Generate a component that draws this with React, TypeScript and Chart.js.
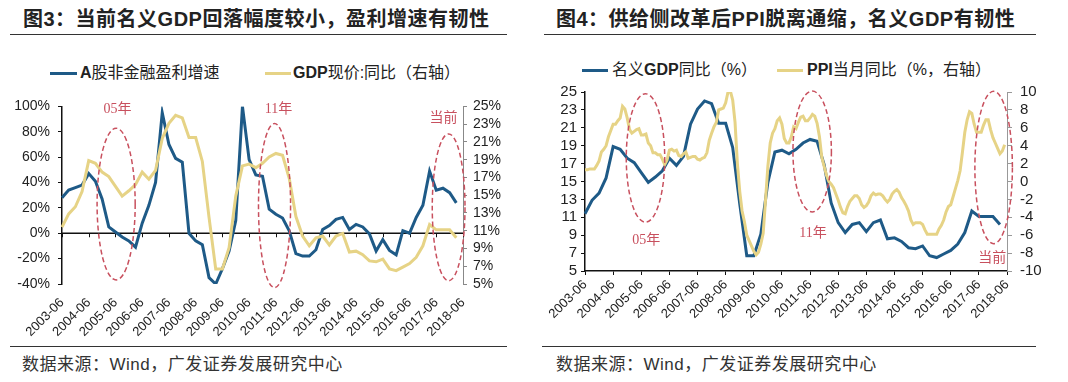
import React, { useEffect, useRef } from 'react';
import { Chart, registerables } from 'chart.js';

Chart.register(...registerables);

const SANS = '"Liberation Sans", Arial, "Noto Sans CJK SC", sans-serif';
const SERIF = '"Liberation Serif", "DejaVu Serif", "Noto Sans CJK SC", serif';
Chart.defaults.font.family = SANS;
Chart.defaults.color = '#222';

const BLUE = '#1E5A87';
const YELLOW = '#E6D386';
const NOTE_RED = '#C8505E';

// ---------- categories ----------
const YEARS = [2003, 2004, 2005, 2006, 2007, 2008, 2009, 2010, 2011, 2012, 2013, 2014, 2015, 2016, 2017, 2018];
const QUARTER_ENDS = ['03', '06', '09', '12'];
const MONTHS = ['01', '02', '03', '04', '05', '06', '07', '08', '09', '10', '11', '12'];
const FIRST_LABEL = '2003-06';
const LAST_LABEL = '2018-06';

const QUARTER_LABELS = YEARS.flatMap((y) => QUARTER_ENDS.map((m) => `${y}-${m}`)).filter(
  (l) => l >= FIRST_LABEL && l <= LAST_LABEL
);
const MONTH_LABELS = YEARS.flatMap((y) => MONTHS.map((m) => `${y}-${m}`)).filter(
  (l) => l >= FIRST_LABEL && l <= LAST_LABEL
);

// ---------- data (quarterly, from 2003-06) ----------
// A股非金融盈利增速 (%), left axis of 图3
const PROFIT_GROWTH = [
  28, 34, 36, 38, 47, 41, 27, 5, 1, -3,
  -6, -11, 8, 22, 40, 95, 70, 59, 56, 0,
  -6, -9, -35, -40, -28, -14, 10, 100, 58, 46,
  45, 19, 15, 12, 2, -16, -18, -18, -13, 3,
  6, 11, 12.5, 3, 7, 5, -0.5, -14, -5, -13.5,
  -17, 2, 0, 12.5, 22, 49, 34, 35.5, 32, 24,
];

// GDP现价:同比 / 名义GDP同比 (%), quarterly
const NOMINAL_GDP = [
  11.4, 12.9, 13.7, 15.4, 18.9, 18.6, 17.6, 17.1, 16.0, 14.9,
  15.5, 16.2, 17.6, 16.8, 17.8, 21.4, 23.1, 24.0, 23.7, 21.5,
  21.5, 18.8, 12.5, 6.7, 6.7, 9.1, 14.9, 18.3, 18.5, 18.1,
  18.6, 19.3, 19.7, 19.5, 16.9, 12.6, 10.4, 9.3, 10.2, 10.4,
  9.4, 10.4, 10.7, 8.6, 8.7, 8.3, 7.6, 7.5, 7.8, 6.7,
  6.5, 6.9, 7.3, 8.0, 9.3, 11.7, 11.1, 11.1, 11.1, 10.2,
];

// PPI当月同比 (%), monthly from 2003-06
const PPI_YOY = [
  1.3, 1.3, 1.4, 1.4, 1.4, 1.8, 2.3,
  3.3, 3.6, 4.0, 5.0, 5.7, 6.4, 6.4, 6.8, 7.1, 8.4, 8.1, 7.1,
  5.8, 5.4, 5.6, 5.8, 5.9, 5.2, 5.2, 5.3, 4.3, 4.0, 3.2, 3.2,
  3.0, 3.0, 2.5, 1.9, 2.4, 3.5, 3.6, 3.4, 3.5, 2.9, 2.8, 3.1,
  3.3, 2.6, 2.7, 2.8, 2.8, 2.5, 2.4, 2.6, 2.7, 3.2, 4.6, 5.4,
  6.1, 6.6, 8.0, 8.1, 8.2, 8.8, 10.0, 10.1, 9.1, 6.6, 2.0, -1.1,
  -3.3, -4.5, -6.0, -6.6, -7.2, -7.8, -8.2, -7.9, -7.0, -5.8, -2.1, 1.7,
  4.3, 5.4, 5.9, 6.8, 7.1, 6.4, 4.8, 4.3, 4.3, 5.0, 6.1, 5.9,
  6.6, 7.2, 7.3, 6.8, 6.8, 7.1, 7.5, 7.3, 6.5, 5.0, 2.7, 1.7,
  0.7, 0.0, -0.3, -0.7, -1.4, -2.1, -2.9, -3.5, -3.6, -2.8, -2.2, -1.9,
  -1.6, -1.6, -1.9, -2.6, -2.9, -2.7, -2.3, -1.6, -1.3, -1.5, -1.4, -1.4,
  -1.6, -2.0, -2.3, -2.0, -1.4, -1.1, -0.9, -1.2, -1.8, -2.2, -2.7, -3.3,
  -4.3, -4.8, -4.6, -4.6, -4.6, -4.8, -5.4, -5.9, -5.9, -5.9, -5.9, -5.9,
  -5.3, -4.9, -4.3, -3.4, -2.8, -2.6, -1.7, -0.8, 0.1, 1.2, 3.3, 5.5,
  6.9, 7.8, 7.6, 6.4, 5.5, 5.5, 5.5, 6.3, 6.9, 6.9, 5.8, 4.9,
  4.3, 3.7, 3.1, 3.4, 4.1,
];

// quarterly GDP placed on the monthly axis
const GDP_ON_MONTHS = MONTH_LABELS.map((l) => {
  const qi = QUARTER_LABELS.indexOf(l);
  return qi >= 0 && qi < NOMINAL_GDP.length ? NOMINAL_GDP[qi] : null;
});

// ---------- annotations (in data units: category index, left-axis value) ----------
type Ellipse = { x0: number; x1: number; y0: number; y1: number };
type Note = { text: string; x: number; y: number };

const FIG3_ELLIPSES: Ellipse[] = [
  { x0: 5.25, x1: 10.95, y0: -36.8, y1: 82.8 },
  { x0: 29.4, x1: 34.2, y0: -42.8, y1: 86.5 },
  { x0: 55.4, x1: 60.3, y0: -37.4, y1: 78.3 },
];
const FIG3_NOTES: Note[] = [
  { text: '05年', x: 8.3, y: 97.4 },
  { text: '11年', x: 32.4, y: 97.9 },
  { text: '当前', x: 57.1, y: 90.9 },
];
const FIG4_ELLIPSES: Ellipse[] = [
  { x0: 17.6, x1: 34.0, y0: 10.45, y1: 24.8 },
  { x0: 88.7, x1: 105.1, y0: 11.6, y1: 25.1 },
  { x0: 166.3, x1: 182.3, y0: 8.05, y1: 25.07 },
];
const FIG4_NOTES: Note[] = [
  { text: '05年', x: 26.1, y: 8.46 },
  { text: '11年', x: 97.3, y: 9.25 },
  { text: '当前', x: 173.7, y: 6.4 },
];

function annotationPlugin(ellipses: Ellipse[], notes: Note[], zeroTickEvery: number) {
  return {
    id: 'annotations',
    beforeDatasetsDraw(chart: any) {
      if (!zeroTickEvery) return;
      const { ctx, chartArea } = chart;
      const x = chart.scales.x;
      const y = chart.scales.y;
      const y0 = y.getPixelForValue(0);
      ctx.save();
      ctx.strokeStyle = '#111';
      ctx.lineWidth = 1.5;
      ctx.beginPath();
      ctx.moveTo(chartArea.left, y0);
      ctx.lineTo(chartArea.right, y0);
      ctx.stroke();
      ctx.lineWidth = 1;
      ctx.beginPath();
      for (let i = 0; i < x.ticks.length; i += zeroTickEvery) {
        const px = Math.round(x.getPixelForTick(i)) + 0.5;
        ctx.moveTo(px, y0);
        ctx.lineTo(px, y0 + 4);
      }
      ctx.stroke();
      ctx.restore();
    },
    afterDatasetsDraw(chart: any) {
      const { ctx } = chart;
      const x = chart.scales.x;
      const y = chart.scales.y;
      ctx.save();
      ctx.strokeStyle = NOTE_RED;
      ctx.lineWidth = 1.5;
      ctx.setLineDash([5, 3]);
      for (const e of ellipses) {
        const a = x.getPixelForValue(e.x0);
        const b = x.getPixelForValue(e.x1);
        const c = y.getPixelForValue(e.y0);
        const d = y.getPixelForValue(e.y1);
        ctx.beginPath();
        ctx.ellipse((a + b) / 2, (c + d) / 2, Math.abs(b - a) / 2, Math.abs(d - c) / 2, 0, 0, Math.PI * 2);
        ctx.stroke();
      }
      ctx.setLineDash([]);
      ctx.fillStyle = NOTE_RED;
      ctx.font = `14px ${SERIF}`;
      ctx.textAlign = 'center';
      ctx.textBaseline = 'middle';
      for (const n of notes) {
        ctx.fillText(n.text, x.getPixelForValue(n.x), y.getPixelForValue(n.y));
      }
      ctx.restore();
    },
  };
}

// ---------- chart configs ----------
function fig3Config(): any {
  return {
    type: 'line',
    data: {
      labels: QUARTER_LABELS,
      datasets: [
        {
          label: 'A股非金融盈利增速',
          data: PROFIT_GROWTH,
          borderColor: BLUE,
          borderWidth: 3,
          pointRadius: 0,
          tension: 0,
          yAxisID: 'y',
          order: 1,
        },
        {
          label: 'GDP现价:同比（右轴）',
          data: NOMINAL_GDP,
          borderColor: YELLOW,
          borderWidth: 3,
          pointRadius: 0,
          tension: 0,
          yAxisID: 'y1',
          order: 0,
        },
      ],
    },
    options: {
      responsive: false,
      animation: false,
      layout: { padding: { top: 15, left: 0, right: 0, bottom: 0 } },
      plugins: { legend: { display: false }, tooltip: { enabled: false } },
      scales: {
        x: {
          type: 'category',
          grid: { display: false },
          border: { display: false },
          ticks: {
            autoSkip: false,
            minRotation: 45,
            maxRotation: 45,
            padding: 3,
            font: { size: 13 },
            color: '#222',
            callback: (_v: any, i: number) => (i % 4 === 0 ? QUARTER_LABELS[i] : ''),
          },
          afterFit: (s: any) => {
            s.height = 62;
          },
        },
        y: {
          position: 'left',
          min: -40,
          max: 100,
          ticks: {
            stepSize: 20,
            autoSkip: false,
            padding: 8,
            font: { size: 14 },
            color: '#222',
            callback: (v: any) => `${v}%`,
          },
          grid: { drawOnChartArea: false, tickLength: 4, color: '#111' },
          border: { color: '#111', width: 1.5 },
          afterFit: (s: any) => {
            s.width = 62;
          },
        },
        y1: {
          position: 'right',
          min: 5,
          max: 25,
          ticks: {
            stepSize: 2,
            autoSkip: false,
            padding: 6,
            font: { size: 14 },
            color: '#222',
            callback: (v: any) => `${v}%`,
          },
          grid: { drawOnChartArea: false, tickLength: 4, color: '#888' },
          border: { color: '#888', width: 1 },
          afterFit: (s: any) => {
            s.width = 71;
          },
        },
      },
    },
    plugins: [annotationPlugin(FIG3_ELLIPSES, FIG3_NOTES, 4)],
  };
}

function fig4Config(): any {
  return {
    type: 'line',
    data: {
      labels: MONTH_LABELS,
      datasets: [
        {
          label: '名义GDP同比（%）',
          data: GDP_ON_MONTHS,
          borderColor: BLUE,
          borderWidth: 3,
          pointRadius: 0,
          tension: 0,
          spanGaps: true,
          yAxisID: 'y',
          order: 1,
        },
        {
          label: 'PPI当月同比（%，右轴）',
          data: PPI_YOY,
          borderColor: YELLOW,
          borderWidth: 3,
          pointRadius: 0,
          tension: 0,
          yAxisID: 'y1',
          order: 0,
        },
      ],
    },
    options: {
      responsive: false,
      animation: false,
      layout: { padding: { top: 12, left: 0, right: 0, bottom: 0 } },
      plugins: { legend: { display: false }, tooltip: { enabled: false } },
      scales: {
        x: {
          type: 'category',
          grid: {
            drawOnChartArea: false,
            tickLength: 4,
            tickColor: (c: any) => (c.index % 12 === 0 ? '#111' : 'rgba(0,0,0,0)'),
            color: (c: any) => (c.index % 12 === 0 ? '#111' : 'rgba(0,0,0,0)'),
          },
          border: { color: '#111', width: 1.5 },
          ticks: {
            autoSkip: false,
            minRotation: 45,
            maxRotation: 45,
            padding: 2,
            font: { size: 13 },
            color: '#222',
            callback: (_v: any, i: number) => (i % 12 === 0 ? MONTH_LABELS[i] : ''),
          },
          afterFit: (s: any) => {
            s.height = 75;
          },
        },
        y: {
          position: 'left',
          min: 5,
          max: 25,
          ticks: { stepSize: 2, autoSkip: false, padding: 4, font: { size: 15 }, color: '#222' },
          grid: { drawOnChartArea: false, tickLength: 4, color: '#111' },
          border: { color: '#111', width: 1.5 },
          afterFit: (s: any) => {
            s.width = 51;
          },
        },
        y1: {
          position: 'right',
          min: -10,
          max: 10,
          ticks: { stepSize: 2, autoSkip: false, padding: 8, font: { size: 15 }, color: '#222' },
          grid: { drawOnChartArea: false, tickLength: 5, color: '#999' },
          border: { color: '#999', width: 1 },
          afterFit: (s: any) => {
            s.width = 61;
          },
        },
      },
    },
    plugins: [annotationPlugin(FIG4_ELLIPSES, FIG4_NOTES, 0)],
  };
}

// ---------- components ----------
function ChartCanvas(props: { make: () => any; left: number; top: number; width: number; height: number }) {
  const ref = useRef<HTMLCanvasElement | null>(null);
  useEffect(() => {
    if (!ref.current) return;
    const chart = new Chart(ref.current, props.make());
    return () => chart.destroy();
  }, []);
  return (
    <canvas
      ref={ref}
      width={props.width}
      height={props.height}
      style={{ position: 'absolute', left: props.left, top: props.top, width: props.width, height: props.height, display: 'block' }}
    />
  );
}

function LegendItem(props: { left: number; textLeft: number; cy: number; color: string; lineW: number; children: React.ReactNode }) {
  return (
    <>
      <div
        style={{ position: 'absolute', left: props.left, top: props.cy - 1.5, width: props.lineW, height: 3, background: props.color }}
      />
      <div
        style={{
          position: 'absolute',
          left: props.textLeft,
          top: props.cy - 11,
          height: 22,
          lineHeight: '22px',
          fontSize: 16,
          whiteSpace: 'nowrap',
          color: '#222',
        }}
      >
        {props.children}
      </div>
    </>
  );
}

const B = (p: { children: React.ReactNode }) => <span style={{ fontWeight: 'bold' }}>{p.children}</span>;

function Rule(props: { left: number; top: number; width: number }) {
  return <div style={{ position: 'absolute', left: props.left, top: props.top, width: props.width, height: 1, background: '#333' }} />;
}

const titleStyle = (left: number): React.CSSProperties => ({
  position: 'absolute',
  left,
  top: 7,
  fontSize: 20,
  fontWeight: 'bold',
  lineHeight: '24px',
  letterSpacing: 0.5,
  whiteSpace: 'nowrap',
  color: '#222',
});

const footStyle = (left: number): React.CSSProperties => ({
  position: 'absolute',
  left,
  top: 354,
  fontSize: 17,
  lineHeight: '22px',
  letterSpacing: 0.5,
  whiteSpace: 'nowrap',
  color: '#333',
});

export default function App() {
  return (
    <div
      style={{
        position: 'absolute',
        left: 0,
        top: 0,
        width: 1068,
        height: 382,
        background: '#fff',
        overflow: 'hidden',
        fontFamily: SANS,
      }}
    >
      {/* ---- 图3 ---- */}
      <div style={titleStyle(23)}>图3：当前名义GDP回落幅度较小，盈利增速有韧性</div>
      <Rule left={10} top={34} width={497} />
      <LegendItem left={50} textLeft={80} cy={73} color={BLUE} lineW={27}>
        <B>A</B>股非金融盈利增速
      </LegendItem>
      <LegendItem left={265} textLeft={293} cy={73} color={YELLOW} lineW={26}>
        <B>GDP</B>现价:同比（右轴）
      </LegendItem>
      <ChartCanvas make={fig3Config} left={0} top={90} width={534} height={256} />
      <Rule left={10} top={346} width={497} />
      <div style={footStyle(22)}>数据来源：Wind，广发证券发展研究中心</div>

      {/* ---- 图4 ---- */}
      <div style={titleStyle(556)}>图4：供给侧改革后PPI脱离通缩，名义GDP有韧性</div>
      <Rule left={544} top={34} width={492} />
      <LegendItem left={582} textLeft={612} cy={70} color={BLUE} lineW={26}>
        名义<B>GDP</B>同比（%）
      </LegendItem>
      <LegendItem left={777} textLeft={807} cy={70} color={YELLOW} lineW={26}>
        <B>PPI</B>当月同比（%，右轴）
      </LegendItem>
      <ChartCanvas make={fig4Config} left={534} top={75} width={534} height={271} />
      <Rule left={542} top={346} width={494} />
      <div style={footStyle(556)}>数据来源：Wind，广发证券发展研究中心</div>
    </div>
  );
}
